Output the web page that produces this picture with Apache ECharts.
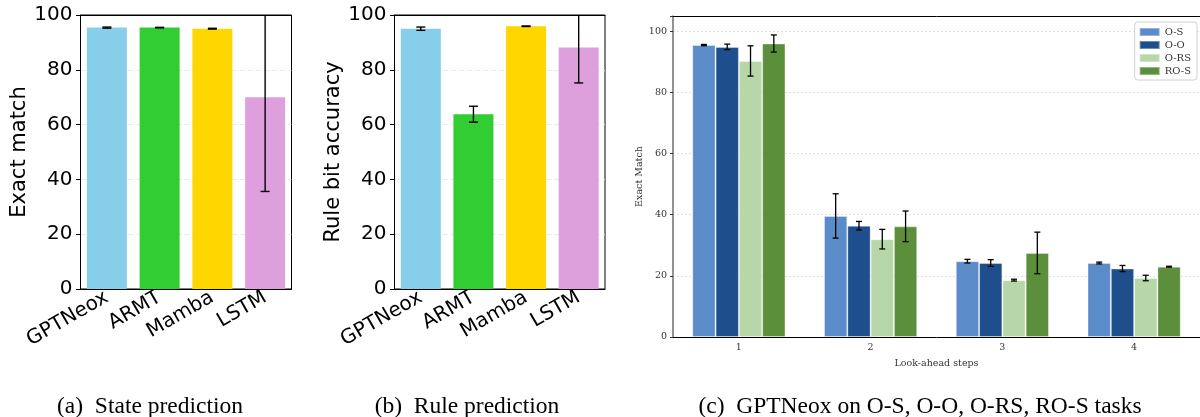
<!DOCTYPE html>
<html><head><meta charset="utf-8">
<script src="https://cdn.jsdelivr.net/npm/echarts@6/dist/echarts.min.js"></script>
<style>html,body{margin:0;padding:0;background:#fff}#c{width:1200px;height:417px}</style>
</head><body><div id="c"></div>
<script>
// ---------- data ----------
const models = ['GPTNeox', 'ARMT', 'Mamba', 'LSTM'];
const modelColors = ['#87ceeb', '#32cd32', '#ffd700', '#dda0dd'];
const stateValues = [95.4, 95.4, 95.0, 70.0];
const stateErrors = [0.2, 0.1, 0.15, 34.4];
const ruleValues = [95.0, 63.8, 95.9, 88.1];
const ruleErrors = [0.6, 2.9, 0.1, 12.9];

const steps = ['1', '2', '3', '4'];
const tasks = ['O-S', 'O-O', 'O-RS', 'RO-S'];
const taskColors = ['#5b8bc9', '#1f4e8c', '#b8d7a8', '#5b8f3b'];
const osValues = [95.5, 39.6, 24.8, 24.2];
const osErrors = [0.2, 7.25, 0.6, 0.3];
const ooValues = [94.9, 36.4, 24.2, 22.4];
const ooErrors = [0.9, 1.4, 1.1, 1.0];
const orsValues = [90.3, 32.0, 18.6, 19.3];
const orsErrors = [4.95, 3.2, 0.3, 0.9];
const rosValues = [96.0, 36.2, 27.5, 23.0];
const rosErrors = [2.8, 5.0, 6.8, 0.15];

const captions = ['(a)  State prediction', '(b)  Rule prediction', '(c)  GPTNeox on O-S, O-O, O-RS, RO-S tasks'];
const yTicksAB = { min: 0, max: 100, interval: 20 };
const yTicksC = { min: 0, max: 105, interval: 20 };

// ---------- helpers ----------
function errRender(values, errors, offsetIdx, nSeries, barW, capW, yMax, lw) {
  return function (params, api) {
    const i = api.value(0);
    const v = values[i], e = errors[i];
    const c = api.coord([i, v]);
    const x = c[0] + (offsetIdx - (nSeries - 1) / 2) * barW;
    const lo = api.coord([i, v - e])[1];
    const hiVal = Math.min(v + e, yMax);
    const hi = api.coord([i, hiVal])[1];
    const st = { stroke: '#000', lineWidth: lw };
    const ch = [
      { type: 'line', shape: { x1: x, y1: lo, x2: x, y2: hi }, style: st },
      { type: 'line', shape: { x1: x - capW / 2, y1: lo, x2: x + capW / 2, y2: lo }, style: st }
    ];
    if (v + e <= yMax) ch.push({ type: 'line', shape: { x1: x - capW / 2, y1: hi, x2: x + capW / 2, y2: hi }, style: st });
    return { type: 'group', children: ch };
  };
}

const sans = 'DejaVu Sans';
const serif = 'DejaVu Serif';

function abXAxis(gi) {
  return {
    type: 'category', gridIndex: gi, data: models,
    axisLine: { lineStyle: { color: '#000', width: 1 } },
    axisTick: { alignWithLabel: true, length: 4.5, lineStyle: { color: '#000' } },
    axisLabel: { rotate: 30, interval: 0, fontSize: 20, fontFamily: sans, color: '#000', margin: 7 }
  };
}
function topAxis(gi, data) {
  return {
    type: 'category', gridIndex: gi, data: data, position: 'top',
    axisLine: { show: true, lineStyle: { color: '#000', width: 1 } },
    axisTick: { show: false }, axisLabel: { show: false }
  };
}
function abYAxis(gi, name) {
  return {
    type: 'value', gridIndex: gi, min: yTicksAB.min, max: yTicksAB.max, interval: yTicksAB.interval,
    name: name, nameLocation: 'middle', nameGap: 49,
    nameTextStyle: { fontSize: 21, fontFamily: sans, color: '#000' },
    axisLine: { show: true, lineStyle: { color: '#000', width: 1 } },
    axisTick: { show: true, length: 4.5, lineStyle: { color: '#000' } },
    axisLabel: { fontSize: 20, fontFamily: sans, color: '#000', margin: 8 },
    splitLine: { show: true, lineStyle: { color: '#e3e3e3', type: [5, 3], width: 0.8 } }
  };
}

const series = [];
// panel a
series.push({
  type: 'bar', xAxisIndex: 0, yAxisIndex: 0, barWidth: 40,
  data: stateValues.map((v, i) => ({ value: v, itemStyle: { color: modelColors[i] } }))
});
series.push({
  type: 'custom', xAxisIndex: 0, yAxisIndex: 0, z: 5,
  data: stateValues.map((v, i) => [i, v]), encode: { x: 0, y: 1 },
  renderItem: errRender(stateValues, stateErrors, 0, 1, 0, 9, yTicksAB.max, 1.4)
});
// panel b
series.push({
  type: 'bar', xAxisIndex: 1, yAxisIndex: 1, barWidth: 40,
  data: ruleValues.map((v, i) => ({ value: v, itemStyle: { color: modelColors[i] } }))
});
series.push({
  type: 'custom', xAxisIndex: 1, yAxisIndex: 1, z: 5,
  data: ruleValues.map((v, i) => [i, v]), encode: { x: 0, y: 1 },
  renderItem: errRender(ruleValues, ruleErrors, 0, 1, 0, 9, yTicksAB.max, 1.4)
});
// panel c
const cVals = [osValues, ooValues, orsValues, rosValues];
const cErrs = [osErrors, ooErrors, orsErrors, rosErrors];
const barWc = 23.3;
cVals.forEach((vals, k) => {
  series.push({
    name: tasks[k], type: 'bar', xAxisIndex: 2, yAxisIndex: 2, barWidth: barWc, barGap: '0%',
    itemStyle: { color: taskColors[k], borderColor: 'rgba(255,255,255,0.35)', borderWidth: 1 },
    data: vals
  });
});
cVals.forEach((vals, k) => {
  series.push({
    type: 'custom', xAxisIndex: 2, yAxisIndex: 2, z: 5,
    data: vals.map((v, i) => [i, v]), encode: { x: 0, y: 1 },
    renderItem: errRender(vals, cErrs[k], k, 4, barWc, 6, yTicksC.max, 1.3)
  });
});

const capStyle = { fontFamily: 'Liberation Serif', fontSize: 23.5, fontWeight: 'normal', color: '#000' };
const option = {
  animation: false,
  backgroundColor: '#fff',
  title: [
    { text: captions[0], left: 145, top: 390, textAlign: 'center', textStyle: capStyle },
    { text: captions[1], left: 462, top: 390, textAlign: 'center', textStyle: capStyle },
    { text: captions[2], left: 915, top: 390, textAlign: 'center', textStyle: capStyle }
  ],
  legend: {
    data: tasks, orient: 'vertical', right: 3, top: 22,
    itemWidth: 20, itemHeight: 8, itemGap: 3, icon: 'rect',
    textStyle: { fontSize: 10, fontFamily: serif, color: '#333' },
    borderColor: '#d0d0d0', borderWidth: 1, borderRadius: 3,
    padding: [5, 6, 4, 4], backgroundColor: '#fff'
  },
  grid: [
    { left: 80.5, top: 15, width: 211, height: 274, show: true, borderColor: '#000', borderWidth: 1 },
    { left: 394.5, top: 15, width: 210.5, height: 274, show: true, borderColor: '#000', borderWidth: 1 },
    { left: 673, top: 16, width: 527, height: 321 }
  ],
  xAxis: [
    abXAxis(0),
    abXAxis(1),
    {
      type: 'category', gridIndex: 2, data: steps,
      name: 'Look-ahead steps', nameLocation: 'middle', nameGap: 22,
      nameTextStyle: { fontSize: 9.5, fontFamily: serif, color: '#333' },
      axisLine: { lineStyle: { color: '#000', width: 1 } },
      axisTick: { alignWithLabel: true, length: 3, lineStyle: { color: '#000' } },
      axisLabel: { fontSize: 9.5, fontFamily: serif, color: '#333', margin: 6 }
    },
    topAxis(2, steps),
    topAxis(0, models),
    topAxis(1, models)
  ],
  yAxis: [
    abYAxis(0, 'Exact match'),
    abYAxis(1, 'Rule bit accuracy'),
    {
      type: 'value', gridIndex: 2, min: yTicksC.min, max: yTicksC.max, interval: yTicksC.interval,
      name: 'Exact Match', nameLocation: 'middle', nameGap: 28,
      nameTextStyle: { fontSize: 9.5, fontFamily: serif, color: '#333' },
      axisLine: { show: true, lineStyle: { color: '#777', width: 1.6 } },
      axisTick: { show: true, length: 3, lineStyle: { color: '#333' } },
      axisLabel: { fontSize: 9.5, fontFamily: serif, color: '#333', margin: 6, formatter: v => (v % 20 === 0 ? String(v) : '') },
      splitLine: { show: true, lineStyle: { color: '#d8d8d8', type: [2, 2], width: 0.8 } }
    }
  ],
  series: series
};
const chart = echarts.init(document.getElementById('c'), null, { renderer: 'canvas' });
chart.setOption(option);
</script>
</body></html>
